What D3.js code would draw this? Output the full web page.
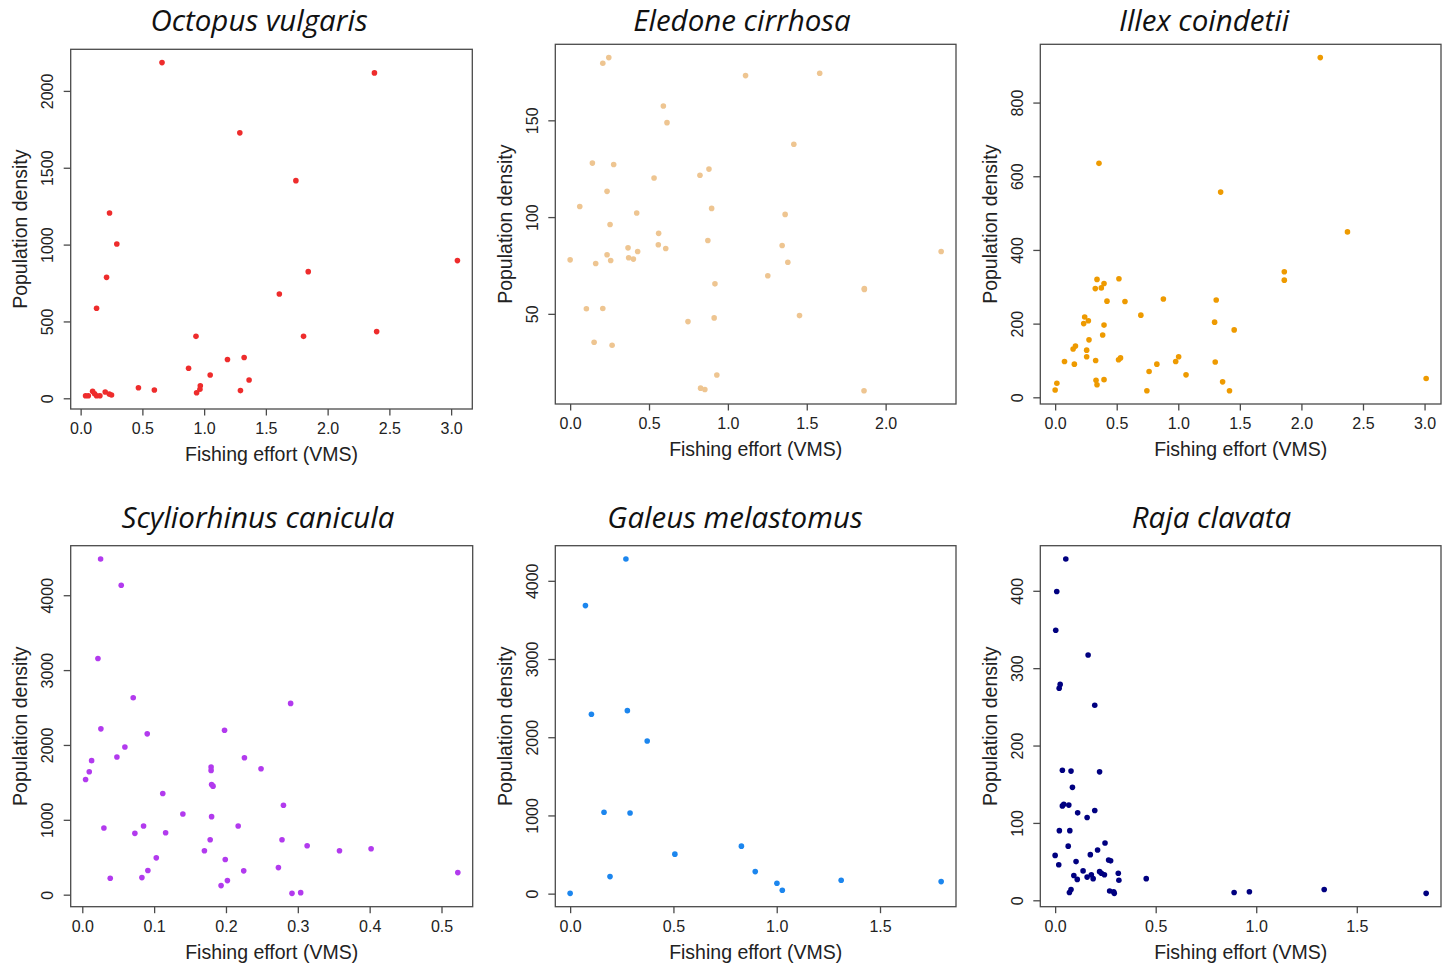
<!DOCTYPE html>
<html><head><meta charset="utf-8">
<script src="https://cdn.jsdelivr.net/npm/d3@7"></script>
<style>body{margin:0;background:#fff}svg{display:block}</style>
</head><body>
<svg id="chart" width="1447" height="966"></svg>
<script>
// ---------- DATA ----------
const species = ["Octopus vulgaris","Eledone cirrhosa","Illex coindetii","Scyliorhinus canicula","Galeus melastomus","Raja clavata"];
const pointColors = ["#EE2C2C","#EEC591","#EE9A00","#B23AEE","#1C86EE","#000080"];
const xAxisLabel = "Fishing effort (VMS)";
const yAxisLabel = "Population density";

const octopusX = [0.659,2.379,1.289,1.743,0.234,0.293,3.051,1.843,0.210,1.609,0.129,0.934,1.805,2.397,1.324,1.189,0.874,1.049,1.364,0.969,0.966,0.939,1.294,0.468,0.597,0.040,0.062,0.097,0.113,0.129,0.156,0.199,0.232,0.250];
const octopusY = [2184,2117,1727,1416,1206,1004,896,824,787,679,586,403,403,434,265,252,195,152,119,82,59,36,50,69,54,17,17,46,30,17,17,41,28,21];

const eledoneX = [0.207,0.245,1.112,1.582,0.591,0.614,1.418,0.141,0.276,0.880,0.823,0.532,0.234,0.061,0.897,0.422,1.363,0.253,0.561,0.873,0.559,1.344,0.367,0.606,0.428,2.352,0.234,0.371,0.401,0.000,0.257,1.380,0.162,1.253,0.918,1.865,1.865,0.103,0.207,1.454,0.913,0.747,0.152,0.266,0.930,0.827,0.854,1.863];
const eledoneY = [179.5,182.4,173.1,174.3,157.4,148.8,137.6,127.9,127.2,124.8,121.6,120.2,113.3,105.5,104.5,102.1,101.4,96.2,91.6,87.9,85.7,85.3,84.1,83.8,82.2,82.2,80.5,79.0,78.3,77.9,77.6,76.7,76.0,69.7,65.5,63.1,62.6,52.6,52.8,49.1,47.9,46.0,35.3,33.8,18.4,11.6,10.9,10.3];

const illexX = [2.153,0.356,1.344,2.374,1.861,1.861,0.518,0.340,0.397,0.326,0.375,0.879,1.308,0.421,0.567,0.696,0.240,0.270,1.295,0.232,0.397,1.454,0.386,0.275,0.165,0.146,0.256,0.256,1.003,0.531,0.515,0.329,0.076,0.979,1.300,0.156,0.826,0.763,1.063,3.013,0.397,0.332,1.360,0.014,0.340,0.000,0.745,1.416];
const illexY = [922,635,557,449,341,318,322,320,309,295,297,267,264,261,260,223,218,208,204,200,196,183,169,156,139,131,128,110,110,107,102,100,97,97,96,90,90,70,61,51,48,46,42,38,34,20,18,18];

const scyliorhinusX = [0.0255,0.0542,0.0218,0.0709,0.290,0.0259,0.198,0.0904,0.0593,0.0482,0.2257,0.0130,0.2488,0.1793,0.1793,0.0097,0.0046,0.180,0.182,0.112,0.280,0.140,0.180,0.0853,0.217,0.0301,0.116,0.0732,0.178,0.278,0.313,0.402,0.170,0.358,0.103,0.199,0.273,0.0913,0.2247,0.5227,0.0830,0.0389,0.2020,0.1932,0.2919,0.304];
const scyliorhinusY = [4483,4134,3154,2631,2555,2215,2197,2148,1973,1839,1830,1790,1682,1705,1660,1642,1539,1472,1450,1351,1195,1078,1042,917,917,890,828,819,734,734,653,613,586,586,492,470,362,322,318,295,228,219,188,121,18,27];

const galeusX = [0.270,0.074,0.277,0.103,0.373,0.164,0.290,0.829,0.507,0.896,0.193,1.312,1.796,1.001,1.027,0.000];
const galeusY = [4278,3683,2340,2293,1951,1040,1031,607,505,282,218,171,154,133,43,4];

const rajaX = [0.053,0.008,0.003,0.164,0.025,0.020,0.197,0.036,0.079,0.221,0.086,0.036,0.043,0.068,0.112,0.197,0.159,0.021,0.073,0.248,0.065,0.211,0.000,0.175,0.266,0.276,0.104,0.018,0.139,0.221,0.230,0.245,0.314,0.180,0.189,0.159,0.093,0.110,0.317,0.453,0.079,0.071,0.271,0.291,0.294,0.890,0.966,1.338,1.845];
const rajaY = [441,399,349,317,279,274,252,168,167,166,146,122,124,123,113,116,107,90,90,74,70,65,58,59,52,51,50,46,38,37,35,33,35,33,28,30,32,27,26,28,14,10,12,11,9,10,11,14,9];

const xTicksOctopus = [0,0.5,1,1.5,2,2.5,3];
const yTicksOctopus = [0,500,1000,1500,2000];
const xTicksEledone = [0,0.5,1,1.5,2];
const yTicksEledone = [50,100,150];
const xTicksIllex = [0,0.5,1,1.5,2,2.5,3];
const yTicksIllex = [0,200,400,600,800];
const xTicksScylio = [0,0.1,0.2,0.3,0.4,0.5];
const yTicksScylio = [0,1000,2000,3000,4000];
const xTicksGaleus = [0,0.5,1,1.5];
const yTicksGaleus = [0,1000,2000,3000,4000];
const xTicksRaja = [0,0.5,1,1.5];
const yTicksRaja = [0,100,200,300,400];

// ---------- LAYOUT ----------
const panels = [
  {name:species[0], color:pointColors[0], xs:octopusX, ys:octopusY, xt:xTicksOctopus, yt:yTicksOctopus, box:[70.7,472.3,49.3,409], tx:259, ty:31},
  {name:species[1], color:pointColors[1], xs:eledoneX, ys:eledoneY, xt:xTicksEledone, yt:yTicksEledone, box:[555.3,956,44.3,404], tx:742, ty:31},
  {name:species[2], color:pointColors[2], xs:illexX, ys:illexY, xt:xTicksIllex, yt:yTicksIllex, box:[1040.3,1441,44.3,404], tx:1204, ty:31},
  {name:species[3], color:pointColors[3], xs:scyliorhinusX, ys:scyliorhinusY, xt:xTicksScylio, yt:yTicksScylio, box:[70.7,472.7,545.7,906.7], tx:258, ty:527.5},
  {name:species[4], color:pointColors[4], xs:galeusX, ys:galeusY, xt:xTicksGaleus, yt:yTicksGaleus, box:[555.3,956,545.7,906.7], tx:735, ty:527.5},
  {name:species[5], color:pointColors[5], xs:rajaX, ys:rajaY, xt:xTicksRaja, yt:yTicksRaja, box:[1040.3,1441,545.7,906.7], tx:1211.5, ty:527.5}
];

function rDomain(v){ const [a,b]=d3.extent(v); const e=(b-a)*0.04; return [a-e,b+e]; }

const svg = d3.select("#chart");
const fontAxis = "'Liberation Sans', Arial, sans-serif";
const boxColor = "#4a4a4a";

panels.forEach(p => {
  const [L,R,T,B] = p.box;
  const x = d3.scaleLinear().domain(rDomain(p.xs)).range([L,R]);
  const y = d3.scaleLinear().domain(rDomain(p.ys)).range([B,T]);
  const g = svg.append("g");

  // title
  g.append("text").attr("x",p.tx).attr("y",p.ty).attr("text-anchor","middle")
    .attr("font-family","'Open Sans', 'Noto Sans', sans-serif").attr("font-style","italic")
    .attr("font-size",29.5).attr("fill","#111").text(p.name);

  // x axis
  const xa = g.append("g").attr("transform",`translate(0,${B})`)
    .call(d3.axisBottom(x).tickValues(p.xt).tickFormat(d3.format(".1f")).tickSize(6.5).tickSizeOuter(0));
  xa.select(".domain").remove();
  xa.selectAll("line").attr("stroke",boxColor).attr("stroke-width",1.3);
  xa.selectAll("text").attr("y",25.3).attr("dy",null).attr("font-size",16)
    .attr("font-family",fontAxis).attr("fill","#222");

  // y axis
  const ya = g.append("g").attr("transform",`translate(${L},0)`)
    .call(d3.axisLeft(y).tickValues(p.yt).tickFormat(d3.format("d")).tickSize(7).tickSizeOuter(0));
  ya.select(".domain").remove();
  ya.selectAll("line").attr("stroke",boxColor).attr("stroke-width",1.3);
  ya.selectAll("text").attr("transform","rotate(-90)").attr("x",0).attr("y",-17.4).attr("dy",null)
    .attr("text-anchor","middle").attr("font-size",16).attr("font-family",fontAxis).attr("fill","#222");

  // box
  g.append("rect").attr("x",L).attr("y",T).attr("width",R-L).attr("height",B-T)
    .attr("fill","none").attr("stroke",boxColor).attr("stroke-width",1.3);

  // axis titles
  g.append("text").attr("x",(L+R)/2).attr("y",B+52).attr("text-anchor","middle")
    .attr("font-family",fontAxis).attr("font-size",19.5).attr("fill","#222").text(xAxisLabel);
  g.append("text").attr("transform",`translate(${L-43.7},${(T+B)/2}) rotate(-90)`).attr("text-anchor","middle")
    .attr("font-family",fontAxis).attr("font-size",19.5).attr("fill","#222").text(yAxisLabel);

  // points
  g.append("g").selectAll("circle").data(p.xs.map((v,i)=>[v,p.ys[i]])).join("circle")
    .attr("cx",d=>x(d[0])).attr("cy",d=>y(d[1])).attr("r",2.8).attr("fill",p.color);
});
</script>
</body></html>
